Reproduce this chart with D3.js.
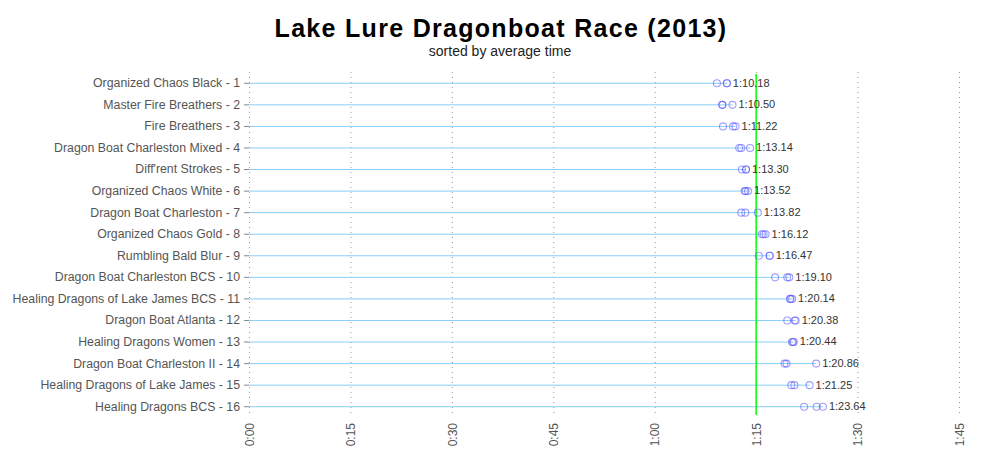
<!DOCTYPE html>
<html><head><meta charset="utf-8">
<script src="https://cdn.jsdelivr.net/npm/d3@7"></script>
<style>body{margin:0;background:#fff}svg{display:block}</style>
</head><body>
<svg id="c" width="1000" height="450"></svg>
<script>
const teams = ["Organized Chaos Black - 1","Master Fire Breathers - 2","Fire Breathers - 3","Dragon Boat Charleston Mixed - 4","Diff'rent Strokes - 5","Organized Chaos White - 6","Dragon Boat Charleston - 7","Organized Chaos Gold - 8","Rumbling Bald Blur - 9","Dragon Boat Charleston BCS - 10","Healing Dragons of Lake James BCS - 11","Dragon Boat Atlanta - 12","Healing Dragons Women - 13","Dragon Boat Charleston II - 14","Healing Dragons of Lake James - 15","Healing Dragons BCS - 16"];
// race times in seconds
const race1 = [69.2,70.0,70.1,72.5,72.9,73.3,72.8,75.85,75.4,77.8,80.0,79.6,80.3,79.2,80.2,82.1];
const race2 = [70.67,70.0,71.6,72.8,73.5,73.45,73.4,76.1,77.0,79.6,80.1,80.7,80.45,79.5,80.65,83.95];
const race3 = [70.67,71.5,71.95,74.1,73.5,73.8,75.25,76.4,77.0,79.9,80.32,80.84,80.57,83.88,82.9,84.87];
const avgLabels = ["1:10.18","1:10.50","1:11.22","1:13.14","1:13.30","1:13.52","1:13.82","1:16.12","1:16.47","1:19.10","1:20.14","1:20.38","1:20.44","1:20.86","1:21.25","1:23.64"];
const tickValues = [0,15,30,45,60,75,90,105];
const tickLabels = ["0:00","0:15","0:30","0:45","1:00","1:15","1:30","1:45"];
const refTime = 75;

const svg = d3.select("#c");
const mLeft = 249, mRight = 959, mTop = 72, mBottom = 417;
const x = d3.scaleLinear().domain([0,105]).range([mLeft,mRight]);
const y = d3.scalePoint().domain(teams).range([mTop,mBottom]).padding(0.5);

svg.append("text").attr("x",501).attr("y",37).attr("text-anchor","middle")
  .style("font-family","'Liberation Sans',Arial,sans-serif").style("font-weight","bold").style("font-size","25px")
  .style("letter-spacing","1.3px")
  .text("Lake Lure Dragonboat Race (2013)");
svg.append("text").attr("x",500).attr("y",56).attr("text-anchor","middle")
  .style("font-family","'Liberation Sans',Arial,sans-serif").style("font-size","14px").attr("fill","#222")
  .text("sorted by average time");

// grid
svg.append("g").selectAll("line").data(tickValues).join("line")
  .attr("x1",d=>x(d)+0.5).attr("x2",d=>x(d)+0.5).attr("y1",mTop).attr("y2",mBottom)
  .attr("stroke","#999").attr("stroke-width",1).attr("stroke-dasharray","1,4");

// x axis
const xAxis = d3.axisBottom(x).tickValues(tickValues).tickFormat((d,i)=>tickLabels[i]).tickSize(0).tickPadding(0);
const gx = svg.append("g").attr("transform",`translate(0,${mBottom})`).call(xAxis);
gx.select(".domain").remove();
gx.selectAll("text").attr("transform","rotate(-90)").attr("x",-6).attr("y",0).attr("dy","0.35em")
  .attr("text-anchor","end").style("font-family","'Liberation Sans',Arial,sans-serif").style("font-size","12px").attr("fill","#555");

// y axis
const yAxis = d3.axisLeft(y).tickSize(5).tickPadding(4);
const gy = svg.append("g").attr("transform",`translate(${mLeft},0)`).call(yAxis);
gy.select(".domain").remove();
gy.selectAll("line").attr("stroke","#888");
gy.selectAll("text").style("font-family","'Liberation Sans',Arial,sans-serif").style("font-size","12.3px").attr("fill","#555");

const rows = teams.map((t,i)=>({team:t, times:[race1[i],race2[i],race3[i]], label:avgLabels[i]}));

// needles
svg.append("g").selectAll("line").data(rows).join("line")
  .attr("x1",x(0)).attr("x2",d=>x(d3.max(d.times))).attr("y1",d=>y(d.team)+0.5).attr("y2",d=>y(d.team)+0.5)
  .attr("stroke","#87cefa").attr("stroke-width",1);

// reference line
svg.append("line").attr("x1",x(refTime)).attr("x2",x(refTime)).attr("y1",mTop+2).attr("y2",mBottom-2)
  .attr("stroke","#00ff00").attr("stroke-width",1.5);

// points
const pts = rows.flatMap(r=>r.times.map(t=>({team:r.team,t})));
svg.append("g").selectAll("circle").data(pts).join("circle")
  .attr("cx",d=>x(d.t)).attr("cy",d=>y(d.team)+0.5).attr("r",3.5)
  .attr("fill","none").attr("stroke","#5050ff").attr("stroke-opacity",0.55).attr("stroke-width",1.1);

// labels
svg.append("g").selectAll("text").data(rows).join("text")
  .attr("x",d=>x(d3.max(d.times))+6).attr("y",d=>y(d.team)).attr("dy","0.35em")
  .style("font-family","'Liberation Sans',Arial,sans-serif").style("font-size","11px").attr("fill","#333")
  .text(d=>d.label);
</script>
</body></html>
